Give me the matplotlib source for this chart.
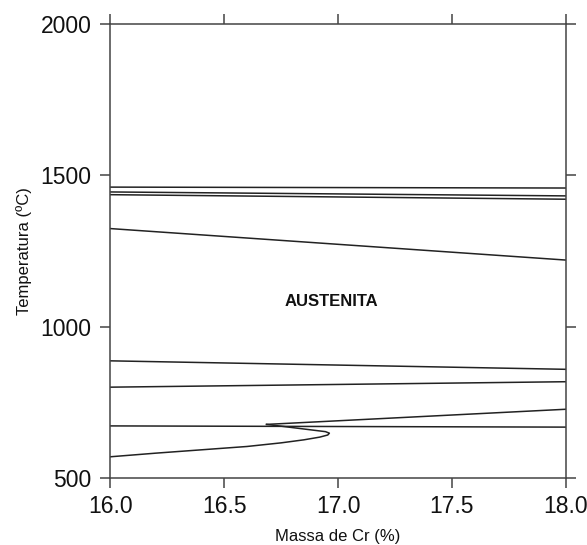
import matplotlib
matplotlib.use("Agg")
import matplotlib.pyplot as plt

plt.rcParams['font.family'] = ['Liberation Sans', 'DejaVu Sans']

# Phase boundary lines (Cr %, Temperature °C)
line_a_cr = [16.0, 18.0]; line_a_t = [1461, 1458]
line_b_cr = [16.0, 18.0]; line_b_t = [1445, 1432]
line_c_cr = [16.0, 18.0]; line_c_t = [1436, 1421]
line_d_cr = [16.0, 18.0]; line_d_t = [1324, 1220]
line_h_cr = [16.0, 18.0]; line_h_t = [887, 859]
line_e_cr = [16.0, 18.0]; line_e_t = [800, 818]
line_g_cr = [16.0, 18.0]; line_g_t = [672, 668]
line_f_cr = [16.686, 18.0]; line_f_t = [677, 727]
nose_cr = [16.0, 16.2, 16.4, 16.6, 16.75, 16.85, 16.92, 16.955, 16.962, 16.945, 16.686]
nose_t = [570, 582, 593, 604, 616, 626, 635, 642, 648, 653, 677]

x_ticks = [16.0, 16.5, 17.0, 17.5, 18.0]
x_labels = ["16.0", "16.5", "17.0", "17.5", "18.0"]
y_ticks = [500, 1000, 1500, 2000]
y_labels = ["500", "1000", "1500", "2000"]

fig = plt.figure(figsize=(5.87, 5.45), dpi=100)
ax = fig.add_axes([0.188, 0.123, 0.7757, 0.833])

lc = '#222222'
lw = 1.1
for xs, ys in [(line_a_cr, line_a_t), (line_b_cr, line_b_t), (line_c_cr, line_c_t),
               (line_d_cr, line_d_t), (line_h_cr, line_h_t), (line_e_cr, line_e_t),
               (line_g_cr, line_g_t), (line_f_cr, line_f_t), (nose_cr, nose_t)]:
    ax.plot(xs, ys, color=lc, lw=lw, solid_joinstyle='round')

ax.set_xlim(16.0, 18.0)
ax.set_ylim(500, 2000)
ax.set_xticks(x_ticks)
ax.set_xticklabels(x_labels)
ax.set_yticks(y_ticks)
ax.set_yticklabels(y_labels)

ax.tick_params(axis='both', direction='out', length=7.5, width=1.1, color='#444444',
               labelsize=16.5, labelcolor='#111111')
ax.tick_params(axis='x', pad=4.5)
ax.tick_params(axis='y', pad=6)
ax.tick_params(top=True, right=True, labeltop=False, labelright=False)
for s in ax.spines.values():
    s.set_color('#444444')
    s.set_linewidth(1.1)

ax.set_xlabel("Massa de Cr (%)", fontsize=12, labelpad=8, color='#111111')
ax.set_ylabel("Temperatura (ºC)", fontsize=12, labelpad=6, color='#111111')

ax.text(16.97, 1082, "AUSTENITA", fontsize=12, fontweight='bold', ha='center', va='center',
        color='#111111')

fig.savefig("out.png", dpi=100)
